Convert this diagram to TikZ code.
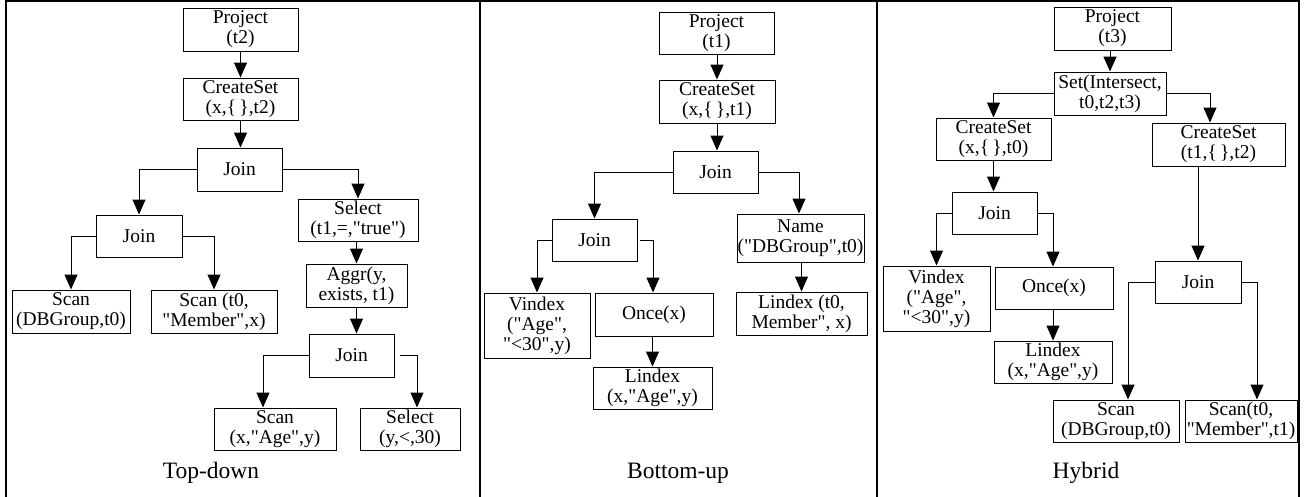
\documentclass[tikz,border=0pt]{standalone}
\usepackage{fontspec}
\setmainfont{Liberation Serif}[Ligatures=TeXOff]
\usetikzlibrary{arrows.meta}
\begin{document}
\begin{tikzpicture}[x=1pt,y=-1pt,
  op/.style={draw, line width=1pt, inner sep=0pt, align=center,
             font=\fontsize{19.5}{20}\selectfont},
  wh/.style 2 args={minimum width=#1pt, minimum height=#2pt},
  link/.style={line width=1pt, -{Triangle[width=13pt,length=15pt]}},
  caption/.style={anchor=base, font=\fontsize{23.5}{26}\selectfont},
  frame/.style={line width=2pt},
  divider/.style={line width=1.3pt},
]
\useasboundingbox (0,0) rectangle (1306,496);

% outer frame and panel dividers
\draw[frame] (6,497) -- (6,1) -- (1299,1) -- (1299,497);
\draw[divider] (480,1) -- (480,497);
\draw[divider] (877,1) -- (877,497);

% ---------------- Top-down ----------------
\node[op, wh={115}{43}] (p1)  at (240.5,29.5) {Project\\(t2)};
\node[op, wh={115}{42}] (c1)  at (240.5,99)   {CreateSet\\(x,\{\,\},t2)};
\node[op, wh={85}{43}]  (j1)  at (239.5,169.5){Join};
\node[op, wh={120}{42}] (s1)  at (358,220)    {Select\\(t1,=,"true")};
\node[op, wh={86}{42}]  (j2)  at (139,236)    {Join};
\node[op, wh={118}{43}] (sc1) at (71,311.5)   {Scan\\(DBGroup,t0)};
\node[op, wh={126}{43}] (sc2) at (214,311.5)  {Scan (t0,\\"Member",x)};
\node[op, wh={101}{43}] (ag)  at (356.5,285.5){Aggr(y,\\exists, t1)};
\node[op, wh={85}{43}]  (j3)  at (351.5,355.5){Join};
\node[op, wh={122}{42}] (sc3) at (275,429)    {Scan\\(x,"Age",y)};
\node[op, wh={100}{42}] (se2) at (410,429)    {Select\\(y,<,30)};

\draw[link] (p1.south) -- (c1.north);
\draw[link] (c1.south) -- (c1.south |- j1.north);
\draw[link] (j1.west) -| (j2.north);
\draw[link] (j1.east) -| (s1.north);
\draw[link] (j2.west) -| (sc1.north);
\draw[link] (j2.east) -| (sc2.north);
\draw[link] (ag.north |- s1.south) -- (ag.north);
\draw[link] (ag.south) -- (ag.south |- j3.north);
\draw[link] (j3.west) -| ([xshift=-12pt]sc3.north);
\draw[link] ([xshift=5pt]j3.east) -| ([xshift=7pt]se2.north);

\node[caption] (lt) at (211,478) {Top-down};

% ---------------- Bottom-up ----------------
\node[op, wh={115}{42}] (q1)  at (716.5,33)   {Project\\(t1)};
\node[op, wh={116}{43}] (q2)  at (717,101.5)  {CreateSet\\(x,\{\,\},t1)};
\node[op, wh={85}{42}]  (qj)  at (715.5,172)  {Join};
\node[op, wh={127}{48}] (qn)  at (800.5,238)  {Name\\("DBGroup",t0)};
\node[op, wh={85}{42}]  (qj2) at (594.5,240)  {Join};
\node[op, wh={106}{65}] (qv)  at (537,325.5)  {Vindex\\("Age",\\"<30",y)};
\node[op, wh={118}{43}] (qo)  at (654,314.5)  {Once(x)};
\node[op, wh={119}{42}] (ql)  at (652.5,388)  {Lindex\\(x,"Age",y)};
\node[op, wh={131}{43}] (qm)  at (801.5,313.5){Lindex (t0,\\Member", x)};

\draw[link] (q2.north |- q1.south) -- (q2.north);
\draw[link] (q2.south) -- (q2.south |- qj.north);
\draw[link] (qj.west) -| (qj2.north);
\draw[link] (qj.east) -| ([xshift=-1.5pt]qn.north);
\draw[link] (qj2.west) -| (qv.north);
\draw[link] ([xshift=2pt]qj2.east) -| ([xshift=-1pt]qo.north);
\draw[link] (ql.north |- qo.south) -- (ql.north);
\draw[link] (qm.north |- qn.south) -- (qm.north);

\node[caption] (lb) at (678,478) {Bottom-up};

% ---------------- Hybrid ----------------
\node[op, wh={117}{43}] (h1)  at (1112.5,28.5){Project\\(t3)};
\node[op, wh={112}{43}] (h2)  at (1110,93.5)  {Set(Intersect,\\t0,t2,t3)};
\node[op, wh={115}{42}] (hc1) at (993.5,139)  {CreateSet\\(x,\{\,\},t0)};
\node[op, wh={133}{43}] (hc2) at (1218.5,144.5){CreateSet\\(t1,\{\,\},t2)};
\node[op, wh={85}{42}]  (hj1) at (994.5,213)  {Join};
\node[op, wh={107}{65}] (hv)  at (936.5,298.5){Vindex\\("Age",\\"<30",y)};
\node[op, wh={118}{42}] (ho)  at (1054,288)   {Once(x)};
\node[op, wh={118}{42}] (hl)  at (1053,362)   {Lindex\\(x,"Age",y)};
\node[op, wh={86}{42}]  (hj2) at (1198,282)   {Join};
\node[op, wh={126}{42}] (hs1) at (1116,421)   {Scan\\(DBGroup,t0)};
\node[op, wh={112}{42}] (hs2) at (1241,421)   {Scan(t0,\\"Member",t1)};

\draw[link] (h2.north |- h1.south) -- (h2.north);
\draw[link] (h2.west) -| (hc1.north);
\draw[link] (h2.east) -| ([xshift=-8.5pt]hc2.north);
\draw[link] (hj2.north |- hc2.south) -- (hj2.north);
\draw[link] (hc1.south) -- (hc1.south |- hj1.north);
\draw[link] (hj1.west) -| (hv.north);
\draw[link] (hj1.east) -| ([xshift=-1pt]ho.north);
\draw[link] (hl.north |- ho.south) -- (hl.north);
\draw[link] (hj2.west) -| ([xshift=12pt]hs1.north);
\draw[link] (hj2.east) -| ([xshift=16pt]hs2.north);

\node[caption] (lh) at (1086,478) {Hybrid};
\end{tikzpicture}
\end{document}
